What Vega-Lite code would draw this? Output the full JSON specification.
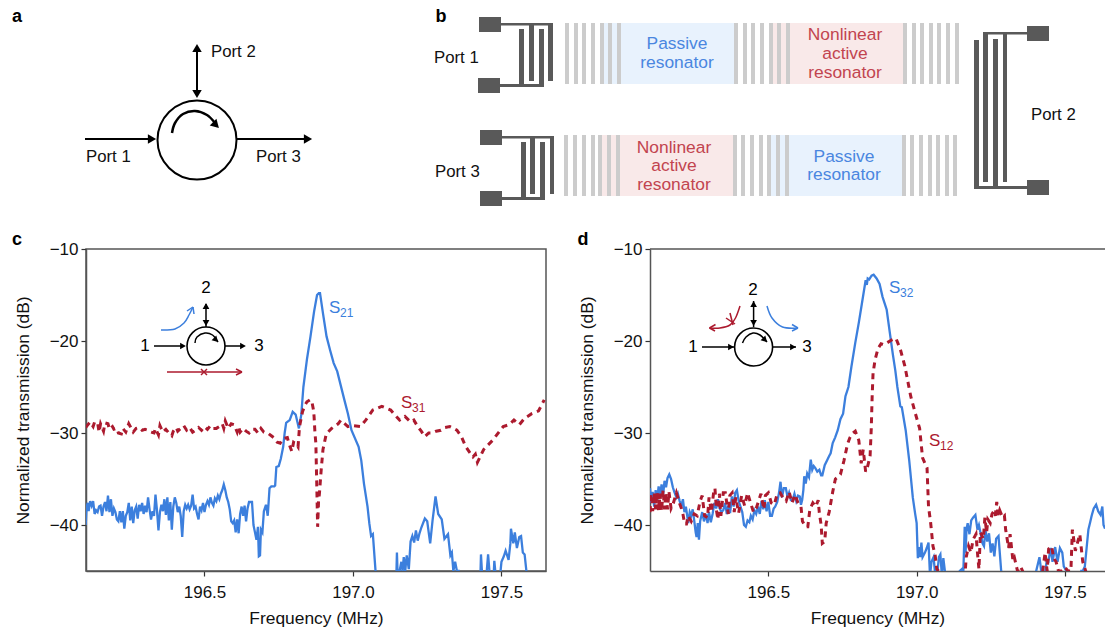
{"$schema":"https://vega.github.io/schema/vega-lite/v6.json","padding":0,"background":"white","bounds":"flush","spacing":0,
"config":{"view":{"stroke":null},"axis":{"grid":false,"domainColor":"#555","domainWidth":1.5,"tickColor":"#333","tickSize":5,"tickWidth":1.2,"labelFont":"Liberation Sans","labelFontSize":17,"labelColor":"#111","titleFont":"Liberation Sans","titleFontSize":17.4,"titleFontWeight":"normal","titleColor":"#111"},"text":{"font":"Liberation Sans"}},
"datasets":{
"c21":[[196.1,-40],[196.103,-38],[196.107,-37.6],[196.11,-38.5],[196.115,-37.4],[196.12,-37.9],[196.125,-37.4],[196.13,-38.8],[196.135,-38.4],[196.14,-38.6],[196.145,-38],[196.15,-37.9],[196.155,-39],[196.16,-38],[196.165,-37.5],[196.17,-38.5],[196.175,-36.8],[196.18,-38.6],[196.185,-37.2],[196.19,-39],[196.195,-38.2],[196.2,-38.6],[196.205,-39.4],[196.21,-39.6],[196.215,-38.5],[196.22,-39.7],[196.225,-38.5],[196.23,-40.4],[196.235,-39],[196.24,-38.6],[196.245,-37.6],[196.25,-39.5],[196.255,-38],[196.26,-39.8],[196.265,-38.4],[196.27,-38],[196.275,-39.3],[196.28,-37.8],[196.285,-38.5],[196.29,-37.6],[196.295,-38.8],[196.3,-37.9],[196.305,-38.6],[196.31,-37],[196.315,-38.3],[196.32,-39.4],[196.325,-38.5],[196.33,-39],[196.335,-36.7],[196.34,-38.4],[196.345,-40.6],[196.35,-38.6],[196.355,-37.8],[196.36,-38.5],[196.365,-37.2],[196.37,-38.9],[196.375,-37],[196.38,-39.5],[196.385,-37.5],[196.39,-40.5],[196.395,-38],[196.4,-37],[196.405,-37.6],[196.41,-38.6],[196.415,-38],[196.42,-39],[196.425,-41.3],[196.43,-38.5],[196.435,-37.8],[196.44,-38.2],[196.445,-37.8],[196.45,-38.3],[196.455,-37.9],[196.46,-36.7],[196.465,-38.2],[196.47,-38],[196.475,-38.8],[196.48,-39.4],[196.485,-38],[196.49,-38.4],[196.495,-37.6],[196.5,-38.6],[196.505,-37.8],[196.51,-37.4],[196.515,-37.8],[196.52,-37],[196.525,-37.6],[196.53,-37.9],[196.535,-37.1],[196.54,-37.4],[196.545,-36.8],[196.55,-37.2],[196.555,-36.6],[196.56,-36.2],[196.565,-35.6],[196.57,-36.2],[196.575,-37],[196.58,-37.5],[196.585,-38.3],[196.59,-39.6],[196.595,-39.8],[196.6,-39.5],[196.605,-40.8],[196.61,-39.4],[196.615,-40.9],[196.62,-38.8],[196.625,-38],[196.63,-39],[196.635,-37.9],[196.64,-39.6],[196.645,-38.2],[196.65,-37.5],[196.66,-37.5],[196.665,-40],[196.67,-40.8],[196.675,-41.6],[196.68,-40.2],[196.683,-43.4],[196.687,-43.3],[196.69,-40.5],[196.695,-40.8],[196.7,-38.5],[196.707,-37.8],[196.713,-39],[196.719,-36],[196.725,-35.8],[196.735,-35.8],[196.738,-35.7],[196.742,-33.7],[196.75,-33.6],[196.757,-32.8],[196.765,-31.5],[196.77,-30],[196.775,-28.9],[196.779,-28.8],[196.787,-28.6],[196.797,-27.7],[196.807,-28],[196.818,-29.5],[196.826,-28],[196.833,-25],[196.845,-22],[196.857,-19.5],[196.869,-16.8],[196.879,-15],[196.885,-14.8],[196.889,-14.8],[196.899,-17],[196.911,-19.5],[196.923,-21],[196.935,-22.4],[196.947,-23.3],[196.971,-26.4],[196.983,-27.9],[196.995,-29.7],[197.019,-31.5],[197.028,-33],[197.037,-35.5],[197.049,-38],[197.055,-39.8],[197.061,-41.2],[197.067,-41],[197.076,-45],[197.08,-47],[197.145,-47],[197.148,-43],[197.15,-45],[197.157,-45],[197.163,-44],[197.167,-45],[197.171,-43.5],[197.176,-45],[197.181,-43.3],[197.188,-44.8],[197.194,-41.8],[197.2,-41.2],[197.206,-41.9],[197.212,-40.6],[197.218,-41.7],[197.224,-40.9],[197.23,-40.3],[197.242,-39.3],[197.25,-39.6],[197.26,-42],[197.268,-39.5],[197.278,-36.9],[197.287,-38.8],[197.299,-39.4],[197.308,-41.5],[197.32,-41],[197.328,-43.3],[197.333,-43],[197.338,-45],[197.344,-44],[197.35,-45],[197.356,-45],[197.362,-47],[197.428,-47],[197.431,-43.2],[197.436,-46],[197.448,-46],[197.455,-43.2],[197.462,-46],[197.473,-46],[197.476,-43.9],[197.482,-46],[197.494,-46],[197.5,-44],[197.508,-43.4],[197.514,-42.8],[197.524,-43.8],[197.53,-42],[197.532,-40.4],[197.54,-42],[197.545,-40.8],[197.552,-42.5],[197.56,-41.3],[197.566,-41.2],[197.572,-43],[197.578,-43.2],[197.584,-45],[197.588,-47]],
"c31":[[196.1,-29.4],[196.105,-29.2],[196.115,-28.8],[196.125,-29.3],[196.13,-28.8],[196.14,-28.9],[196.145,-29.9],[196.15,-29],[196.16,-29.8],[196.165,-28.9],[196.175,-29],[196.18,-29.6],[196.19,-29.3],[196.195,-29.6],[196.205,-29.5],[196.21,-30],[196.22,-30.1],[196.225,-29.5],[196.235,-29.9],[196.245,-29],[196.25,-29.3],[196.26,-29.9],[196.27,-29.5],[196.28,-29.4],[196.29,-29.7],[196.3,-29.6],[196.31,-29.7],[196.32,-29.9],[196.33,-30],[196.335,-29.5],[196.345,-30.2],[196.35,-29.2],[196.36,-29.9],[196.37,-29.6],[196.38,-30],[196.39,-30.3],[196.395,-29.8],[196.405,-29.4],[196.41,-29.8],[196.42,-29.5],[196.43,-29.2],[196.44,-29.7],[196.45,-29.4],[196.46,-29.9],[196.47,-29.7],[196.48,-29.4],[196.49,-29.7],[196.5,-29.3],[196.51,-29.6],[196.52,-29.2],[196.53,-29.5],[196.54,-29.5],[196.55,-29.3],[196.56,-29],[196.565,-29.5],[196.57,-28.7],[196.58,-29.5],[196.59,-29],[196.6,-29.1],[196.61,-29.9],[196.615,-29.3],[196.62,-29.9],[196.63,-29.5],[196.64,-29.8],[196.65,-30],[196.66,-29.6],[196.67,-29.6],[196.68,-30],[196.69,-29.5],[196.7,-29.9],[196.713,-30],[196.725,-30.3],[196.737,-30.6],[196.745,-31],[196.755,-31.1],[196.765,-30.6],[196.779,-30.5],[196.785,-31.2],[196.794,-32],[196.8,-31],[196.809,-31.2],[196.815,-31.5],[196.82,-29.3],[196.83,-27.7],[196.838,-27],[196.845,-26.6],[196.855,-26.4],[196.861,-26.5],[196.867,-27.5],[196.869,-28.2],[196.872,-30],[196.875,-31.1],[196.877,-34],[196.879,-37],[196.881,-40.2],[196.884,-37.5],[196.887,-36.6],[196.893,-34],[196.899,-31.8],[196.91,-30.1],[196.928,-29.5],[196.95,-29],[196.959,-28.6],[196.983,-29.3],[197,-29.2],[197.025,-29.3],[197.043,-28.6],[197.067,-27.5],[197.097,-27.1],[197.127,-27.5],[197.14,-28],[197.157,-28.6],[197.175,-28.2],[197.194,-28.8],[197.205,-28.6],[197.218,-29.3],[197.23,-29.8],[197.242,-30.4],[197.255,-30],[197.266,-30],[197.28,-29.8],[197.296,-29.7],[197.31,-29.4],[197.326,-29.3],[197.35,-29.7],[197.365,-30.4],[197.38,-31.5],[197.395,-32.2],[197.404,-32.6],[197.412,-32.3],[197.419,-33.2],[197.44,-31.8],[197.47,-30.8],[197.506,-29.3],[197.525,-29.1],[197.542,-28.6],[197.56,-29.1],[197.578,-28.4],[197.602,-27.9],[197.625,-27.6],[197.644,-26.4]],
"d32":[[196.101,-36],[196.105,-37.6],[196.11,-36.4],[196.115,-38],[196.12,-36.2],[196.125,-37.4],[196.13,-35.8],[196.135,-36.8],[196.14,-35.6],[196.145,-36.8],[196.15,-35.2],[196.155,-35.9],[196.16,-34.9],[196.166,-34.5],[196.172,-35],[196.178,-35.9],[196.183,-36.4],[196.19,-37],[196.195,-36.6],[196.201,-37.4],[196.207,-37.9],[196.212,-37.2],[196.217,-38.6],[196.222,-38],[196.23,-39.8],[196.235,-38.6],[196.24,-39],[196.245,-38.3],[196.25,-39.5],[196.255,-40.8],[196.258,-41.3],[196.262,-39.8],[196.266,-41.6],[196.27,-39.6],[196.277,-38.6],[196.283,-39.6],[196.29,-38.8],[196.295,-39.8],[196.3,-38.6],[196.306,-39.7],[196.312,-38.8],[196.318,-37.6],[196.324,-38.2],[196.33,-37.2],[196.336,-38.2],[196.342,-38.6],[196.348,-38.4],[196.354,-37.6],[196.36,-38.8],[196.365,-37.9],[196.371,-38.7],[196.377,-36.9],[196.383,-38],[196.388,-36.5],[196.394,-36.2],[196.4,-37.4],[196.406,-38],[196.412,-38.6],[196.418,-40],[196.424,-40.2],[196.43,-39.5],[196.436,-39.7],[196.441,-39],[196.447,-39.4],[196.453,-38.4],[196.459,-38.8],[196.465,-38],[196.471,-38.8],[196.477,-37.4],[196.483,-38.3],[196.488,-37.3],[196.494,-38.5],[196.5,-37.5],[196.506,-39],[196.512,-39],[196.518,-38.2],[196.523,-38],[196.53,-37.5],[196.536,-36.5],[196.541,-35.3],[196.546,-37],[196.552,-36],[196.559,-36],[196.565,-37],[196.57,-36.5],[196.576,-37.3],[196.582,-37.3],[196.588,-36.6],[196.594,-37.4],[196.6,-36.8],[196.606,-36.9],[196.61,-37.8],[196.614,-37.3],[196.618,-36.2],[196.621,-34.7],[196.626,-35.5],[196.631,-34.4],[196.637,-34.8],[196.643,-32.9],[196.648,-34],[196.653,-33.6],[196.658,-33.8],[196.665,-34.2],[196.672,-34],[196.678,-34.6],[196.682,-34.6],[196.69,-33.5],[196.699,-32.9],[196.705,-32.5],[196.71,-32.2],[196.717,-31.1],[196.725,-30.5],[196.734,-29.7],[196.743,-28.5],[196.752,-27.9],[196.76,-26],[196.77,-25],[196.78,-22.8],[196.793,-20.2],[196.805,-18],[196.815,-16],[196.828,-13.4],[196.832,-13.9],[196.835,-13.2],[196.84,-13.3],[196.848,-12.9],[196.855,-12.8],[196.865,-13.2],[196.875,-13.8],[196.885,-15.2],[196.899,-16.6],[196.91,-19.2],[196.92,-21.5],[196.928,-23.2],[196.935,-25],[196.945,-27.1],[196.95,-27.2],[196.963,-29.7],[196.975,-33],[196.987,-37],[196.995,-38.8],[197,-39.8],[197.004,-43.6],[197.008,-42.4],[197.012,-43.5],[197.016,-41.9],[197.02,-43.5],[197.028,-43],[197.034,-42.5],[197.04,-41.9],[197.045,-45.5],[197.05,-44],[197.057,-43.5],[197.063,-45.5],[197.069,-45.5],[197.075,-43.5],[197.08,-43.2],[197.085,-45.5],[197.09,-43.6],[197.097,-45.5],[197.103,-46],[197.14,-46],[197.145,-45],[197.152,-44.8],[197.157,-45.5],[197.162,-40.2],[197.165,-43],[197.168,-40.5],[197.172,-39.8],[197.178,-41],[197.184,-39.5],[197.19,-39.2],[197.198,-38.9],[197.205,-40.5],[197.21,-40],[197.215,-40.8],[197.222,-42],[197.227,-42.3],[197.232,-40.5],[197.238,-41.8],[197.244,-40.9],[197.25,-43],[197.256,-42],[197.262,-43.4],[197.268,-41.5],[197.276,-41.2],[197.285,-45],[197.29,-46],[197.395,-46],[197.403,-45],[197.414,-43.5],[197.42,-45],[197.432,-45.5],[197.438,-44],[197.444,-44],[197.452,-42.5],[197.458,-44],[197.467,-42.4],[197.475,-44],[197.483,-42.5],[197.491,-43],[197.496,-44.5],[197.505,-45],[197.514,-46],[197.549,-46],[197.555,-45],[197.56,-45],[197.567,-44.5],[197.573,-42.5],[197.579,-40.5],[197.585,-39.7],[197.59,-39],[197.597,-38.2],[197.605,-37.8],[197.612,-38.5],[197.62,-38.9],[197.626,-38],[197.63,-40],[197.635,-40.4]],
"d12":[[196.101,-38.6],[196.105,-36.6],[196.11,-38.5],[196.115,-36.5],[196.12,-38.3],[196.125,-36.5],[196.13,-38.4],[196.135,-36.6],[196.14,-38.5],[196.145,-36.2],[196.15,-38.3],[196.155,-36.5],[196.16,-38.3],[196.165,-36.4],[196.172,-38.2],[196.18,-37.6],[196.19,-36.5],[196.2,-37.6],[196.207,-38.2],[196.212,-38.8],[196.218,-39.9],[196.224,-39.9],[196.23,-39],[196.24,-39.6],[196.25,-38.8],[196.26,-39],[196.27,-37.4],[196.277,-36.8],[196.285,-39],[196.295,-39.2],[196.3,-37],[196.308,-38.6],[196.315,-36.6],[196.32,-36],[196.325,-38.4],[196.33,-39.4],[196.335,-36.6],[196.34,-39],[196.348,-36.5],[196.355,-36.5],[196.365,-38.8],[196.37,-36.8],[196.378,-36.5],[196.385,-38.6],[196.39,-37],[196.4,-38.7],[196.41,-36.8],[196.42,-37.9],[196.43,-36.5],[196.44,-37.6],[196.45,-38.6],[196.46,-38.1],[196.465,-37.6],[196.475,-36.6],[196.485,-38.3],[196.49,-36.8],[196.5,-36.5],[196.51,-37.6],[196.52,-37.8],[196.53,-36.6],[196.54,-36.5],[196.55,-37.1],[196.56,-37.4],[196.57,-36.4],[196.58,-37.6],[196.59,-36.7],[196.6,-37.6],[196.61,-38],[196.615,-39.6],[196.625,-40.2],[196.633,-40.2],[196.64,-38.3],[196.65,-37.6],[196.66,-38],[196.668,-37.3],[196.672,-38.7],[196.678,-40],[196.682,-42],[196.69,-41.8],[196.695,-39.8],[196.705,-38.6],[196.717,-36.4],[196.726,-35],[196.734,-34.8],[196.743,-34.5],[196.755,-33],[196.767,-31.2],[196.775,-30.5],[196.785,-30],[196.793,-29.8],[196.805,-30.8],[196.813,-33.3],[196.82,-31.8],[196.828,-34.2],[196.835,-33.6],[196.843,-32.5],[196.847,-29.5],[196.85,-26],[196.853,-23.5],[196.86,-22],[196.87,-20.8],[196.88,-20.3],[196.89,-20.4],[196.9,-20.2],[196.915,-19.9],[196.93,-19.7],[196.945,-20.9],[196.96,-22.7],[196.98,-26],[196.995,-27.8],[197.01,-29.5],[197.02,-32.7],[197.035,-33.8],[197.04,-38],[197.047,-39.7],[197.055,-42.3],[197.062,-43.2],[197.068,-44.8],[197.08,-45.2],[197.095,-47],[197.16,-47],[197.167,-43.5],[197.175,-42.3],[197.183,-43],[197.19,-41.6],[197.2,-41],[197.205,-43],[197.21,-44.8],[197.215,-40.8],[197.225,-41.5],[197.23,-39.2],[197.236,-40.8],[197.24,-39.4],[197.248,-39.8],[197.254,-38.8],[197.26,-38.5],[197.265,-39],[197.27,-37.5],[197.275,-39],[197.28,-38.4],[197.29,-39.2],[197.296,-39],[197.3,-40.5],[197.31,-42.5],[197.315,-41],[197.325,-44],[197.33,-43.6],[197.34,-45],[197.35,-44.5],[197.36,-45.2],[197.37,-47],[197.42,-47],[197.425,-45],[197.433,-43],[197.44,-45],[197.445,-42.6],[197.455,-42.3],[197.462,-43.6],[197.47,-44],[197.478,-45],[197.49,-45],[197.5,-44.6],[197.51,-45],[197.52,-45],[197.525,-40.5],[197.535,-42.8],[197.55,-41],[197.56,-44],[197.57,-45],[197.58,-47]],
"top":[{"k":"blue","x":604,"x2":738,"y":23,"y2":84},{"k":"red","x":769,"x2":907,"y":23,"y2":84},{"k":"red","x":598,"x2":737,"y":135,"y2":196},{"k":"blue","x":767,"x2":906,"y":135,"y2":196},
{"k":"bar","x":565,"x2":569,"y":23,"y2":84},{"k":"bar","x":574,"x2":578,"y":23,"y2":84},{"k":"bar","x":582,"x2":586,"y":23,"y2":84},{"k":"bar","x":591,"x2":595,"y":23,"y2":84},{"k":"bar","x":600,"x2":604,"y":23,"y2":84},{"k":"bar","x":608,"x2":612,"y":23,"y2":84},{"k":"bar","x":617,"x2":621,"y":23,"y2":84},{"k":"bar","x":734,"x2":738,"y":23,"y2":84},{"k":"bar","x":743,"x2":747,"y":23,"y2":84},{"k":"bar","x":751,"x2":755,"y":23,"y2":84},{"k":"bar","x":760,"x2":764,"y":23,"y2":84},{"k":"bar","x":769,"x2":773,"y":23,"y2":84},{"k":"bar","x":777,"x2":781,"y":23,"y2":84},{"k":"bar","x":786,"x2":790,"y":23,"y2":84},{"k":"bar","x":903,"x2":907,"y":23,"y2":84},{"k":"bar","x":912,"x2":916,"y":23,"y2":84},{"k":"bar","x":920,"x2":924,"y":23,"y2":84},{"k":"bar","x":929,"x2":933,"y":23,"y2":84},{"k":"bar","x":937,"x2":941,"y":23,"y2":84},{"k":"bar","x":946,"x2":950,"y":23,"y2":84},{"k":"bar","x":955,"x2":959,"y":23,"y2":84},
{"k":"bar","x":564,"x2":568,"y":135,"y2":196},{"k":"bar","x":573,"x2":577,"y":135,"y2":196},{"k":"bar","x":582,"x2":586,"y":135,"y2":196},{"k":"bar","x":591,"x2":595,"y":135,"y2":196},{"k":"bar","x":598,"x2":602,"y":135,"y2":196},{"k":"bar","x":607,"x2":611,"y":135,"y2":196},{"k":"bar","x":616,"x2":620,"y":135,"y2":196},{"k":"bar","x":733,"x2":737,"y":135,"y2":196},{"k":"bar","x":741,"x2":745,"y":135,"y2":196},{"k":"bar","x":750,"x2":754,"y":135,"y2":196},{"k":"bar","x":759,"x2":763,"y":135,"y2":196},{"k":"bar","x":767,"x2":771,"y":135,"y2":196},{"k":"bar","x":776,"x2":780,"y":135,"y2":196},{"k":"bar","x":785,"x2":789,"y":135,"y2":196},{"k":"bar","x":902,"x2":906,"y":135,"y2":196},{"k":"bar","x":910,"x2":914,"y":135,"y2":196},{"k":"bar","x":919,"x2":923,"y":135,"y2":196},{"k":"bar","x":928,"x2":932,"y":135,"y2":196},{"k":"bar","x":936,"x2":940,"y":135,"y2":196},{"k":"bar","x":945,"x2":949,"y":135,"y2":196},{"k":"bar","x":953,"x2":957,"y":135,"y2":196},
{"k":"metal","x":479,"x2":501,"y":17,"y2":32},{"k":"metal","x":478,"x2":500,"y":78,"y2":93},{"k":"metal","x":501,"x2":553,"y":23,"y2":25.5},{"k":"metal","x":500,"x2":544,"y":84,"y2":87},{"k":"metal","x":519,"x2":524,"y":29,"y2":85},{"k":"metal","x":529,"x2":534,"y":24,"y2":81},{"k":"metal","x":539,"x2":544,"y":29,"y2":85},{"k":"metal","x":548,"x2":553,"y":24,"y2":81},
{"k":"metal","x":480,"x2":502,"y":130,"y2":145},{"k":"metal","x":480,"x2":502,"y":191,"y2":206},{"k":"metal","x":502,"x2":554,"y":136,"y2":138.5},{"k":"metal","x":502,"x2":545,"y":197,"y2":200},{"k":"metal","x":521,"x2":526,"y":142,"y2":198},{"k":"metal","x":530,"x2":535,"y":136,"y2":194},{"k":"metal","x":540,"x2":545,"y":142,"y2":198},{"k":"metal","x":550,"x2":554,"y":136,"y2":194},
{"k":"metal","x":1027,"x2":1049,"y":26,"y2":41},{"k":"metal","x":1027,"x2":1049,"y":180,"y2":195},{"k":"metal","x":983,"x2":1027,"y":32,"y2":34.5},{"k":"metal","x":974,"x2":1027,"y":186,"y2":189},{"k":"metal","x":974,"x2":979,"y":40,"y2":189},{"k":"metal","x":983,"x2":988,"y":32,"y2":182},{"k":"metal","x":993,"x2":998,"y":39,"y2":187},{"k":"metal","x":1003,"x2":1007,"y":34,"y2":182}],
"insetC":[{"c":"k","x":206,"y":304,"x2":206,"y2":327},{"c":"k","x":154,"y":346,"x2":184,"y2":346},{"c":"k","x":225,"y":346,"x2":244,"y2":346},{"c":"r","x":167,"y":372,"x2":242,"y2":372},{"c":"r","x":242,"y":372,"x2":236,"y2":369},{"c":"r","x":242,"y":372,"x2":236,"y2":375},{"c":"r","x":201,"y":369,"x2":207,"y2":375},{"c":"r","x":201,"y":375,"x2":207,"y2":369},{"c":"b","x":193,"y":307,"x2":187,"y2":311},{"c":"b","x":193,"y":307,"x2":194,"y2":314}],
"arcC":[{"c":"b","id":1,"i":1,"x":161,"y":330},{"c":"b","id":1,"i":2,"x":175,"y":329},{"c":"b","id":1,"i":3,"x":184,"y":323},{"c":"b","id":1,"i":4,"x":189,"y":315},{"c":"b","id":1,"i":5,"x":193,"y":307},{"c":"k","id":2,"i":1,"x":195,"y":343},{"c":"k","id":2,"i":2,"x":197,"y":337},{"c":"k","id":2,"i":3,"x":205,"y":333},{"c":"k","id":2,"i":4,"x":212.5,"y":335},{"c":"k","id":2,"i":5,"x":218,"y":342}],
"headC":[{"x":183,"y":346,"a":90},{"x":243,"y":346,"a":90},{"x":206,"y":306,"a":0},{"x":206,"y":323,"a":180},{"x":216,"y":340,"a":135}],
"insetD":[{"c":"k","x":753.6,"y":301,"x2":753.6,"y2":327},{"c":"k","x":702,"y":347,"x2":734,"y2":347},{"c":"k","x":773,"y":347,"x2":796,"y2":347},{"c":"g","x":650,"y":249,"x2":1105,"y2":249},{"c":"r","x":709.5,"y":328,"x2":715.5,"y2":324.5},{"c":"r","x":709.5,"y":328,"x2":715,"y2":331},{"c":"r","x":726,"y":318,"x2":735,"y2":324},{"c":"r","x":730,"y":313,"x2":733,"y2":325},{"c":"b","x":798,"y":328,"x2":792,"y2":324.5},{"c":"b","x":798,"y":328,"x2":792,"y2":331}],
"arcD":[{"c":"r","id":1,"i":1,"x":740,"y":306},{"c":"r","id":1,"i":2,"x":735.5,"y":318},{"c":"r","id":1,"i":3,"x":730,"y":325},{"c":"r","id":1,"i":4,"x":720,"y":328},{"c":"r","id":1,"i":5,"x":709.5,"y":328},{"c":"b","id":2,"i":1,"x":767,"y":306},{"c":"b","id":2,"i":2,"x":772,"y":318},{"c":"b","id":2,"i":3,"x":782.5,"y":327},{"c":"b","id":2,"i":4,"x":798,"y":328},{"c":"k","id":3,"i":1,"x":742.5,"y":343},{"c":"k","id":3,"i":2,"x":746,"y":337},{"c":"k","id":3,"i":3,"x":753,"y":333},{"c":"k","id":3,"i":4,"x":760,"y":335},{"c":"k","id":3,"i":5,"x":767,"y":342}],
"headD":[{"x":731,"y":347,"a":90},{"x":793,"y":347,"a":90},{"x":753.6,"y":304,"a":0},{"x":753.6,"y":323,"a":180},{"x":765,"y":340,"a":135}]
},
"vconcat":[
{"width":1105,"height":249,"layer":[
{"data":{"name":"top"},"mark":"rect","encoding":{"x":{"field":"x","type":"quantitative","scale":{"domain":[0,1105]},"axis":null},"x2":{"field":"x2"},"y":{"field":"y","type":"quantitative","scale":{"domain":[249,0]},"axis":null},"y2":{"field":"y2"},"color":{"field":"k","type":"nominal","scale":{"domain":["blue","red","bar","metal","k","r","b","g"],"range":["#e8f2fd","#f9e9e9","#cccccc","#595959","#000000","#ac1a2e","#3c7fdd","#555555"]},"legend":null}}},
{"data":{"values":[{"x":85,"y":139,"x2":153,"y2":139},{"x":236,"y":139,"x2":306,"y2":139},{"x":197,"y":47,"x2":197,"y2":95}]},"mark":{"type":"rule","stroke":"#000","strokeWidth":2},"encoding":{"x":{"field":"x","type":"quantitative","scale":{"domain":[0,1105]},"axis":null},"x2":{"field":"x2"},"y":{"field":"y","type":"quantitative","scale":{"domain":[249,0]},"axis":null},"y2":{"field":"y2"}}},
{"data":{"values":[{"i":1,"x":172,"y":133},{"i":2,"x":175,"y":123},{"i":3,"x":183,"y":114},{"i":4,"x":195,"y":111},{"i":5,"x":207,"y":115},{"i":6,"x":215,"y":123}]},"mark":{"type":"line","stroke":"#000","strokeWidth":2.5,"interpolate":"cardinal"},"encoding":{"x":{"field":"x","type":"quantitative","scale":{"domain":[0,1105]},"axis":null},"y":{"field":"y","type":"quantitative","scale":{"domain":[249,0]},"axis":null},"order":{"field":"i"}}},
{"data":{"values":[{"x":197,"y":140}]},"mark":{"type":"point","size":6241,"filled":false,"stroke":"#000","strokeWidth":2,"opacity":1},"encoding":{"x":{"field":"x","type":"quantitative","scale":{"domain":[0,1105]},"axis":null},"y":{"field":"y","type":"quantitative","scale":{"domain":[249,0]},"axis":null}}},
{"data":{"values":[{"x":152,"y":139,"a":90},{"x":308,"y":139,"a":90},{"x":197,"y":48,"a":0},{"x":197,"y":94,"a":180},{"x":216,"y":125,"a":135}]},"mark":{"type":"point","shape":"triangle-up","size":90,"filled":true,"color":"#000","opacity":1},"encoding":{"x":{"field":"x","type":"quantitative","scale":{"domain":[0,1105]},"axis":null},"y":{"field":"y","type":"quantitative","scale":{"domain":[249,0]},"axis":null},"angle":{"field":"a","type":"quantitative","scale":null}}},
{"data":{"values":[{"x":211,"y":52,"t":"Port 2"},{"x":86,"y":157,"t":"Port 1"},{"x":256,"y":157,"t":"Port 3"},{"x":434,"y":58,"t":"Port 1"},{"x":435,"y":172,"t":"Port 3"},{"x":1031,"y":115,"t":"Port 2"}]},"mark":{"type":"text","align":"left","baseline":"middle","fontSize":16.8,"color":"#111"},"encoding":{"x":{"field":"x","type":"quantitative","scale":{"domain":[0,1105]},"axis":null},"y":{"field":"y","type":"quantitative","scale":{"domain":[249,0]},"axis":null},"text":{"field":"t"}}},
{"data":{"values":[{"x":677,"y":44,"t":"Passive"},{"x":677,"y":63,"t":"resonator"},{"x":844,"y":157,"t":"Passive"},{"x":844,"y":175,"t":"resonator"}]},"mark":{"type":"text","align":"center","baseline":"middle","fontSize":17.4,"color":"#4a86e0"},"encoding":{"x":{"field":"x","type":"quantitative","scale":{"domain":[0,1105]},"axis":null},"y":{"field":"y","type":"quantitative","scale":{"domain":[249,0]},"axis":null},"text":{"field":"t"}}},
{"data":{"values":[{"x":845,"y":35,"t":"Nonlinear"},{"x":845,"y":54,"t":"active"},{"x":845,"y":73,"t":"resonator"},{"x":674,"y":148,"t":"Nonlinear"},{"x":674,"y":166,"t":"active"},{"x":674,"y":185,"t":"resonator"}]},"mark":{"type":"text","align":"center","baseline":"middle","fontSize":17.4,"color":"#c2444f"},"encoding":{"x":{"field":"x","type":"quantitative","scale":{"domain":[0,1105]},"axis":null},"y":{"field":"y","type":"quantitative","scale":{"domain":[249,0]},"axis":null},"text":{"field":"t"}}},
{"data":{"values":[{"x":17,"y":17,"t":"a"},{"x":441,"y":17,"t":"b"},{"x":17,"y":240,"t":"c"},{"x":583,"y":240,"t":"d"}]},"mark":{"type":"text","align":"center","baseline":"middle","fontSize":18,"fontWeight":"bold","color":"#000"},"encoding":{"x":{"field":"x","type":"quantitative","scale":{"domain":[0,1105]},"axis":null},"y":{"field":"y","type":"quantitative","scale":{"domain":[249,0]},"axis":null},"text":{"field":"t"}}}
]},
{"bounds":"flush","spacing":0,"hconcat":[
{"width":86,"height":322,"data":{"values":[{"x":0}]},"mark":{"type":"point","opacity":0},"encoding":{}},
{"bounds":"flush","spacing":104,"hconcat":[
{"width":460,"height":322,"view":{"stroke":"#555","strokeWidth":1.5},"resolve":{"scale":{"x":"independent","y":"independent"}},"layer":[
{"data":{"name":"c21"},"mark":{"type":"line","clip":true,"stroke":"#3c7fdd","strokeWidth":2.3},"encoding":{"x":{"field":"0","type":"quantitative","scale":{"domain":[196.101,197.65],"nice":false},"axis":{"title":"Frequency (MHz)","values":[196.5,197,197.5],"format":".1f","labelPadding":8,"titlePadding":9}},"y":{"field":"1","type":"quantitative","scale":{"domain":[-45,-10],"nice":false},"axis":{"title":"Normalized transmission (dB)","values":[-10,-20,-30,-40],"format":"d","labelPadding":3,"titlePadding":17}}}},
{"data":{"name":"c31"},"mark":{"type":"line","clip":true,"stroke":"#ac1a2e","strokeWidth":3,"strokeDash":[6,5]},"encoding":{"x":{"field":"0","type":"quantitative","scale":{"domain":[196.101,197.65],"nice":false},"axis":null},"y":{"field":"1","type":"quantitative","scale":{"domain":[-45,-10],"nice":false},"axis":null}}},
{"layer":[
{"data":{"name":"insetC"},"mark":{"type":"rule","strokeWidth":1.5},"encoding":{"x":{"field":"x","type":"quantitative","scale":{"domain":[86,546]},"axis":null},"x2":{"field":"x2"},"y":{"field":"y","type":"quantitative","scale":{"domain":[571,249]},"axis":null},"y2":{"field":"y2"},"color":{"field":"c","type":"nominal","scale":{"domain":["blue","red","bar","metal","k","r","b","g"],"range":["#e8f2fd","#f9e9e9","#cccccc","#595959","#000000","#ac1a2e","#3c7fdd","#555555"]},"legend":null}}},
{"data":{"name":"arcC"},"mark":{"type":"line","strokeWidth":1.5,"interpolate":"cardinal"},"encoding":{"x":{"field":"x","type":"quantitative","scale":{"domain":[86,546]},"axis":null},"y":{"field":"y","type":"quantitative","scale":{"domain":[571,249]},"axis":null},"detail":{"field":"id"},"order":{"field":"i"},"color":{"field":"c","type":"nominal","scale":{"domain":["blue","red","bar","metal","k","r","b","g"],"range":["#e8f2fd","#f9e9e9","#cccccc","#595959","#000000","#ac1a2e","#3c7fdd","#555555"]},"legend":null}}},
{"data":{"values":[{"x":206,"y":346}]},"mark":{"type":"point","size":1444,"filled":false,"stroke":"#000","strokeWidth":1.6,"opacity":1},"encoding":{"x":{"field":"x","type":"quantitative","scale":{"domain":[86,546]},"axis":null},"y":{"field":"y","type":"quantitative","scale":{"domain":[571,249]},"axis":null}}},
{"data":{"name":"headC"},"mark":{"type":"point","shape":"triangle-up","size":45,"filled":true,"color":"#000","opacity":1},"encoding":{"x":{"field":"x","type":"quantitative","scale":{"domain":[86,546]},"axis":null},"y":{"field":"y","type":"quantitative","scale":{"domain":[571,249]},"axis":null},"angle":{"field":"a","type":"quantitative","scale":null}}},
{"data":{"values":[{"x":206,"y":288,"t":"2"},{"x":145,"y":346,"t":"1"},{"x":259,"y":346,"t":"3"}]},"mark":{"type":"text","align":"center","baseline":"middle","fontSize":17,"color":"#000"},"encoding":{"x":{"field":"x","type":"quantitative","scale":{"domain":[86,546]},"axis":null},"y":{"field":"y","type":"quantitative","scale":{"domain":[571,249]},"axis":null},"text":{"field":"t"}}},
{"data":{"values":[{"x":329,"y":308,"t":"S","c":"b"},{"x":401,"y":403,"t":"S","c":"r"}]},"mark":{"type":"text","align":"left","baseline":"middle","fontSize":17},"encoding":{"x":{"field":"x","type":"quantitative","scale":{"domain":[86,546]},"axis":null},"y":{"field":"y","type":"quantitative","scale":{"domain":[571,249]},"axis":null},"text":{"field":"t"},"color":{"field":"c","type":"nominal","scale":{"domain":["blue","red","bar","metal","k","r","b","g"],"range":["#e8f2fd","#f9e9e9","#cccccc","#595959","#000000","#ac1a2e","#3c7fdd","#555555"]},"legend":null}}},
{"data":{"values":[{"x":340,"y":313,"t":"21","c":"b"},{"x":412,"y":408,"t":"31","c":"r"}]},"mark":{"type":"text","align":"left","baseline":"middle","fontSize":12},"encoding":{"x":{"field":"x","type":"quantitative","scale":{"domain":[86,546]},"axis":null},"y":{"field":"y","type":"quantitative","scale":{"domain":[571,249]},"axis":null},"text":{"field":"t"},"color":{"field":"c","type":"nominal","scale":{"domain":["blue","red","bar","metal","k","r","b","g"],"range":["#e8f2fd","#f9e9e9","#cccccc","#595959","#000000","#ac1a2e","#3c7fdd","#555555"]},"legend":null}}}
]}
]},
{"width":455,"height":322,"resolve":{"scale":{"x":"independent","y":"independent"}},"layer":[
{"data":{"name":"d32"},"mark":{"type":"line","clip":true,"stroke":"#3c7fdd","strokeWidth":2.3},"encoding":{"x":{"field":"0","type":"quantitative","scale":{"domain":[196.101,197.635],"nice":false},"axis":{"title":"Frequency (MHz)","values":[196.5,197,197.5],"format":".1f","labelPadding":8,"titlePadding":9}},"y":{"field":"1","type":"quantitative","scale":{"domain":[-45,-10],"nice":false},"axis":{"title":"Normalized transmission (dB)","values":[-10,-20,-30,-40],"format":"d","labelPadding":3,"titlePadding":17}}}},
{"data":{"name":"d12"},"mark":{"type":"line","clip":true,"stroke":"#ac1a2e","strokeWidth":3,"strokeDash":[6,5]},"encoding":{"x":{"field":"0","type":"quantitative","scale":{"domain":[196.101,197.635],"nice":false},"axis":null},"y":{"field":"1","type":"quantitative","scale":{"domain":[-45,-10],"nice":false},"axis":null}}},
{"layer":[
{"data":{"name":"insetD"},"mark":{"type":"rule","strokeWidth":1.5},"encoding":{"x":{"field":"x","type":"quantitative","scale":{"domain":[650,1105]},"axis":null},"x2":{"field":"x2"},"y":{"field":"y","type":"quantitative","scale":{"domain":[571,249]},"axis":null},"y2":{"field":"y2"},"color":{"field":"c","type":"nominal","scale":{"domain":["blue","red","bar","metal","k","r","b","g"],"range":["#e8f2fd","#f9e9e9","#cccccc","#595959","#000000","#ac1a2e","#3c7fdd","#555555"]},"legend":null}}},
{"data":{"name":"arcD"},"mark":{"type":"line","strokeWidth":1.5,"interpolate":"cardinal"},"encoding":{"x":{"field":"x","type":"quantitative","scale":{"domain":[650,1105]},"axis":null},"y":{"field":"y","type":"quantitative","scale":{"domain":[571,249]},"axis":null},"detail":{"field":"id"},"order":{"field":"i"},"color":{"field":"c","type":"nominal","scale":{"domain":["blue","red","bar","metal","k","r","b","g"],"range":["#e8f2fd","#f9e9e9","#cccccc","#595959","#000000","#ac1a2e","#3c7fdd","#555555"]},"legend":null}}},
{"data":{"values":[{"x":753.6,"y":347}]},"mark":{"type":"point","size":1444,"filled":false,"stroke":"#000","strokeWidth":1.6,"opacity":1},"encoding":{"x":{"field":"x","type":"quantitative","scale":{"domain":[650,1105]},"axis":null},"y":{"field":"y","type":"quantitative","scale":{"domain":[571,249]},"axis":null}}},
{"data":{"name":"headD"},"mark":{"type":"point","shape":"triangle-up","size":45,"filled":true,"color":"#000","opacity":1},"encoding":{"x":{"field":"x","type":"quantitative","scale":{"domain":[650,1105]},"axis":null},"y":{"field":"y","type":"quantitative","scale":{"domain":[571,249]},"axis":null},"angle":{"field":"a","type":"quantitative","scale":null}}},
{"data":{"values":[{"x":753,"y":290,"t":"2"},{"x":693,"y":347,"t":"1"},{"x":807,"y":347,"t":"3"}]},"mark":{"type":"text","align":"center","baseline":"middle","fontSize":17,"color":"#000"},"encoding":{"x":{"field":"x","type":"quantitative","scale":{"domain":[650,1105]},"axis":null},"y":{"field":"y","type":"quantitative","scale":{"domain":[571,249]},"axis":null},"text":{"field":"t"}}},
{"data":{"values":[{"x":889,"y":288,"t":"S","c":"b"},{"x":929,"y":441,"t":"S","c":"r"}]},"mark":{"type":"text","align":"left","baseline":"middle","fontSize":17},"encoding":{"x":{"field":"x","type":"quantitative","scale":{"domain":[650,1105]},"axis":null},"y":{"field":"y","type":"quantitative","scale":{"domain":[571,249]},"axis":null},"text":{"field":"t"},"color":{"field":"c","type":"nominal","scale":{"domain":["blue","red","bar","metal","k","r","b","g"],"range":["#e8f2fd","#f9e9e9","#cccccc","#595959","#000000","#ac1a2e","#3c7fdd","#555555"]},"legend":null}}},
{"data":{"values":[{"x":900,"y":293,"t":"32","c":"b"},{"x":940,"y":446,"t":"12","c":"r"}]},"mark":{"type":"text","align":"left","baseline":"middle","fontSize":12},"encoding":{"x":{"field":"x","type":"quantitative","scale":{"domain":[650,1105]},"axis":null},"y":{"field":"y","type":"quantitative","scale":{"domain":[571,249]},"axis":null},"text":{"field":"t"},"color":{"field":"c","type":"nominal","scale":{"domain":["blue","red","bar","metal","k","r","b","g"],"range":["#e8f2fd","#f9e9e9","#cccccc","#595959","#000000","#ac1a2e","#3c7fdd","#555555"]},"legend":null}}}
]}
]}
]}
]}
]}
